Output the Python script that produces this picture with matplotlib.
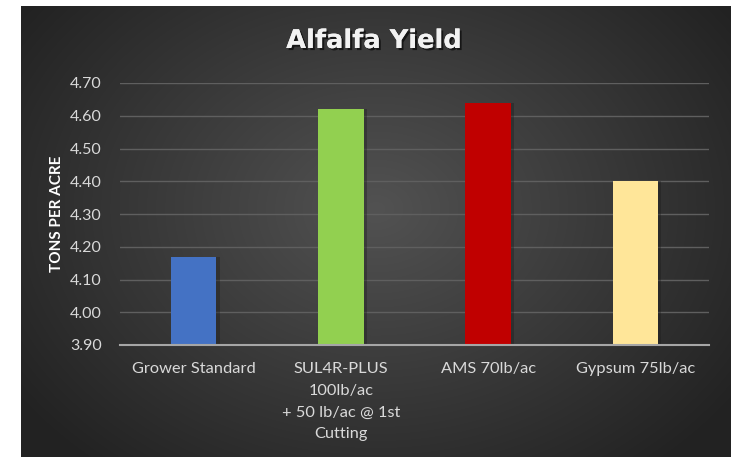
import numpy as np
import matplotlib
matplotlib.use("Agg")
import matplotlib.pyplot as plt
import matplotlib.patheffects as pe

categories = ["Grower Standard", "SUL4R-PLUS\n100lb/ac\n+ 50 lb/ac @ 1st\nCutting", "AMS 70lb/ac", "Gypsum 75lb/ac"]
values = [4.17, 4.62, 4.64, 4.40]
colors = ["#4472C4", "#92D050", "#C00000", "#FFE699"]
yticks = [3.90, 4.00, 4.10, 4.20, 4.30, 4.40, 4.50, 4.60, 4.70]
title = "Alfalfa Yield"
ylabel = "TONS PER ACRE"

W, H = 740, 457
fig = plt.figure(figsize=(W / 100, H / 100), dpi=100, facecolor="white")

# dark radial gradient background panel (pixel image)
bx0, bx1, btop = 21, 731, 6
pw, ph = bx1 - bx0, H - btop
gy, gx = np.mgrid[0:1:complex(0, ph), 0:1:complex(0, pw)]
r = np.sqrt(((gx - 0.5) / 0.62) ** 2 + ((gy - 0.55) / 0.75) ** 2)
r = np.clip(r, 0, 1)
light = np.array([0x52, 0x52, 0x52]) / 255
dark = np.array([0x22, 0x22, 0x22]) / 255
img = light[None, None, :] * (1 - r[..., None]) + dark[None, None, :] * r[..., None]
fig.figimage(img, xo=bx0, yo=0, origin="lower", zorder=-10)

# main plot axes
px0, px1, py_top, py_bot = 120, 709, 83, 345
ax = fig.add_axes([px0 / W, (H - py_bot) / H, (px1 - px0) / W, (py_bot - py_top) / H])
ax.set_zorder(5)
ax.patch.set_alpha(0)

x = np.arange(len(categories))
# subtle shadows
ax.bar(x + 0.012, [v - 3.9 for v in values], bottom=3.9, width=0.33, color="#1a1a1a", alpha=0.35, zorder=2)
bars = ax.bar(x, [v - 3.9 for v in values], bottom=3.9, width=0.31, color=colors, zorder=3)
ax.set_xlim(-0.5, 3.5)
ax.set_ylim(3.90, 4.70)
ax.set_yticks(yticks)
ax.set_yticklabels([f"{t:.2f}" for t in yticks])
ax.set_xticks(x)
ax.set_xticklabels(categories, linespacing=1.72)

for s in ["top", "right", "left"]:
    ax.spines[s].set_visible(False)
ax.spines["bottom"].set_color("#A6A6A6")
ax.spines["bottom"].set_linewidth(1.5)
ax.spines["bottom"].set_zorder(4)

ax.yaxis.grid(True, color="#5f5f5f", linewidth=1.0, zorder=1)
ax.set_axisbelow(True)
ax.tick_params(axis="both", length=0, colors="#D9D9D9")
ax.tick_params(axis="y", pad=13, labelsize=11.5)
ax.tick_params(axis="x", pad=12, labelsize=11.8)
for lab in ax.get_xticklabels() + ax.get_yticklabels():
    lab.set_fontfamily("Lato")
    lab.set_color("#D9D9D9")

fig.text(57 / W, (H - 214) / H, ylabel, rotation=90, ha="center", va="center",
         color="white", fontsize=11, fontweight="bold", fontfamily="Lato", zorder=6)

fig.text(374 / W, (H - 41) / H, title, ha="center", va="center", color="#F2F2F2",
         fontsize=18.5, fontweight="bold", fontfamily="DejaVu Sans", zorder=6,
         path_effects=[pe.withSimplePatchShadow(offset=(1.5, -1.5), shadow_rgbFace="black", alpha=0.6), pe.Normal()])

fig.savefig("out.png", dpi=100, facecolor="white")
